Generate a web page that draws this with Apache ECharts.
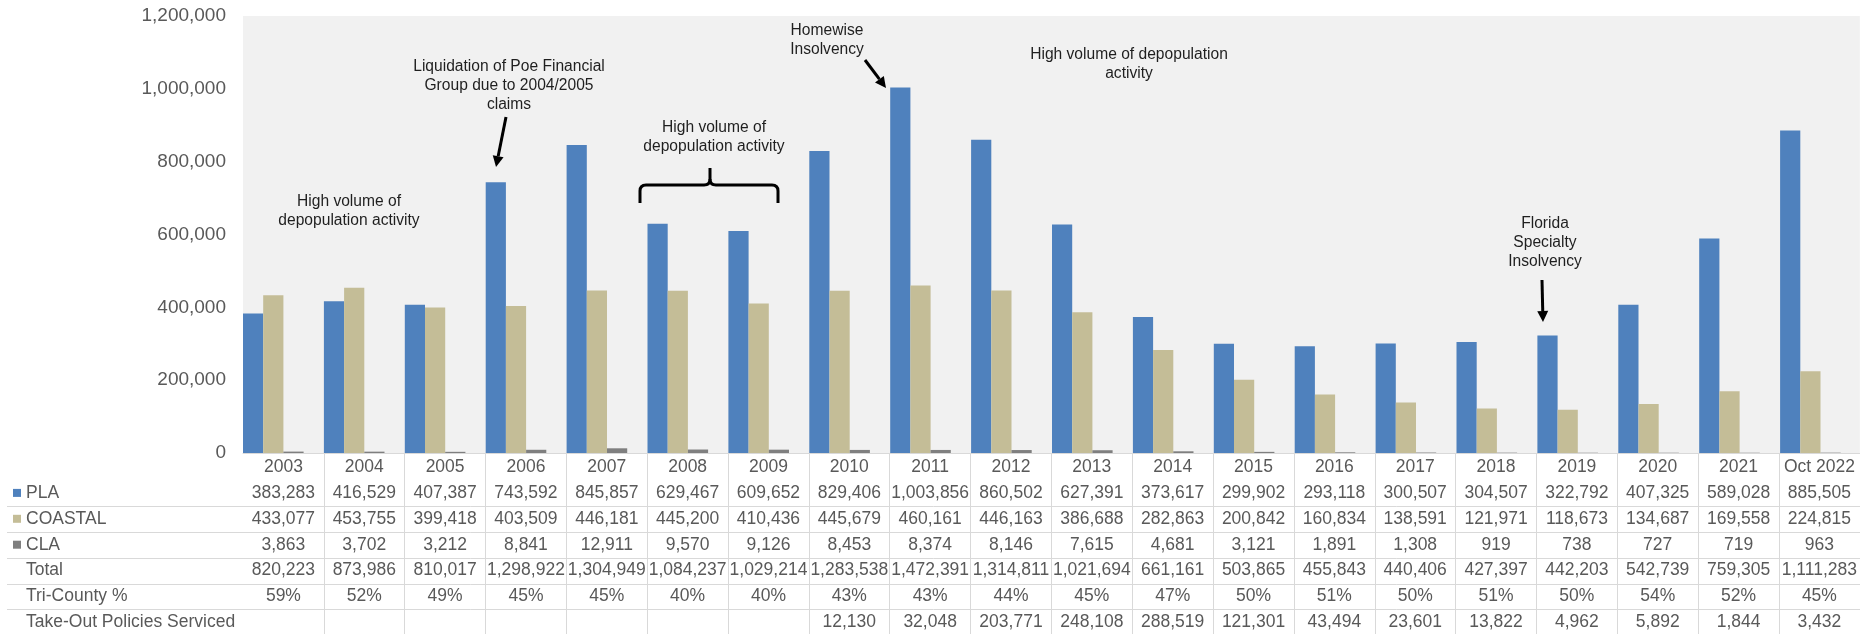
<!DOCTYPE html>
<html>
<head>
<meta charset="utf-8">
<script src="https://cdn.jsdelivr.net/npm/echarts@6/dist/echarts.min.js"></script>
<style>
  html, body { margin: 0; padding: 0; background: #ffffff; }
  #chart { width: 1860px; height: 634px; }
</style>
</head>
<body>
<div id="chart"></div>
<script>
// Policy counts by year
const years = ['2003', '2004', '2005', '2006', '2007', '2008', '2009', '2010', '2011', '2012',
  '2013', '2014', '2015', '2016', '2017', '2018', '2019', '2020', '2021', 'Oct 2022'];
const pla = [383283, 416529, 407387, 743592, 845857, 629467, 609652, 829406, 1003856, 860502,
  627391, 373617, 299902, 293118, 300507, 304507, 322792, 407325, 589028, 885505];
const coastal = [433077, 453755, 399418, 403509, 446181, 445200, 410436, 445679, 460161, 446163,
  386688, 282863, 200842, 160834, 138591, 121971, 118673, 134687, 169558, 224815];
const cla = [3863, 3702, 3212, 8841, 12911, 9570, 9126, 8453, 8374, 8146,
  7615, 4681, 3121, 1891, 1308, 919, 738, 727, 719, 963];
const totals = [820223, 873986, 810017, 1298922, 1304949, 1084237, 1029214, 1283538, 1472391, 1314811,
  1021694, 661161, 503865, 455843, 440406, 427397, 442203, 542739, 759305, 1111283];
const triCounty = ['59%', '52%', '49%', '45%', '45%', '40%', '40%', '43%', '43%', '44%',
  '45%', '47%', '50%', '51%', '50%', '51%', '50%', '54%', '52%', '45%'];
const takeOut = [null, null, null, null, null, null, null, 12130, 32048, 203771,
  248108, 288519, 121301, 43494, 23601, 13822, 4962, 5892, 1844, 3432];

// Value axis ticks
const yMin = 0;
const yMax = 1200000;
const yStep = 200000;

const FONT = '"Liberation Sans", Arial, Helvetica, sans-serif';
const TEXT = '#595959';
const LINE = '#d9d9d9';
const COLORS = { PLA: '#4f81bd', COASTAL: '#c4bd97', CLA: '#7f7f7f' };

const fmt = v => (v == null ? '' : v.toLocaleString('en-US'));

// Plot frame
const plotLeft = 243, plotTop = 16, plotHeight = 437, plotWidth = 1618;
const bandW = plotWidth / years.length;
const barW = 20.2;
// bars sit at the left side of each column, so the bar grid is nudged left
const barShift = (bandW - 3 * barW) / 2;
const rowH = 25.9;
const firstRowY = plotTop + plotHeight + 14;

const tableRows = [
  { name: 'PLA', key: COLORS.PLA, values: pla.map(fmt) },
  { name: 'COASTAL', key: COLORS.COASTAL, values: coastal.map(fmt) },
  { name: 'CLA', key: COLORS.CLA, values: cla.map(fmt) },
  { name: 'Total', values: totals.map(fmt) },
  { name: 'Tri-County %', values: triCounty },
  { name: 'Take-Out Policies Serviced', values: takeOut.map(fmt) }
];

const tableLabel = {
  interval: 0, margin: 5, fontSize: 17.5, color: TEXT, fontFamily: FONT
};

const xAxes = [
  // bar layout axis
  { gridIndex: 0, type: 'category', data: years, show: false },
  // year row and column separators of the data table
  {
    gridIndex: 1, type: 'category', data: years, position: 'bottom',
    axisLine: { show: true, onZero: false, lineStyle: { color: LINE, width: 1 } },
    axisTick: { show: true, interval: i => i > 0, length: 182, lineStyle: { color: LINE, width: 1 } },
    axisLabel: tableLabel
  }
].concat(tableRows.map((r, k) => ({
  gridIndex: 1, type: 'category', data: years, position: 'bottom', offset: rowH * (k + 1),
  axisLine: { show: false, onZero: false }, axisTick: { show: false },
  axisLabel: Object.assign({}, tableLabel, { formatter: (v, i) => r.values[i] })
})));

// Table row headers, legend keys and row rules
const tableGraphics = [];
tableRows.forEach((r, k) => {
  const cy = firstRowY + rowH * (k + 1);
  if (r.key) {
    tableGraphics.push({
      type: 'rect', shape: { x: 13, y: cy - 4, width: 8, height: 8 },
      style: { fill: r.key }, silent: true
    });
  }
  tableGraphics.push({
    type: 'text', x: 26, y: cy,
    style: { text: r.name, fontSize: 17.5, fontFamily: FONT, fill: TEXT, textAlign: 'left', textVerticalAlign: 'middle' },
    silent: true
  });
  if (k < tableRows.length - 1) {
    const ly = Math.round(cy + rowH / 2) + 0.5;
    tableGraphics.push({
      type: 'line', shape: { x1: 7, y1: ly, x2: 1860, y2: ly },
      style: { stroke: LINE, lineWidth: 1 }, silent: true
    });
  }
});

// Call-out notes
const NOTE = '#1f1f1f';
function note(text, cx, firstLineY) {
  const lh = 18.6;
  return {
    type: 'text', x: cx, y: firstLineY - lh / 2,
    style: { text, fontSize: 15.6, fontFamily: FONT, fill: NOTE, textAlign: 'center', textVerticalAlign: 'top', lineHeight: lh },
    silent: true
  };
}
const INK = { stroke: '#000', lineWidth: 3, fill: null };
function arrow(x1, y1, x2, y2) {
  const dx = x2 - x1, dy = y2 - y1;
  const len = Math.sqrt(dx * dx + dy * dy);
  const ux = dx / len, uy = dy / len;
  const hl = 11, hw = 5.5;
  const bx = x2 - ux * hl, by = y2 - uy * hl;
  return [
    { type: 'line', shape: { x1, y1, x2: bx, y2: by }, style: { stroke: '#000', lineWidth: 3 }, silent: true },
    { type: 'polygon', shape: { points: [[x2, y2], [bx - uy * hw, by + ux * hw], [bx + uy * hw, by - ux * hw]] },
      style: { fill: '#000' }, silent: true }
  ];
}
const seg = (x1, y1, x2, y2) => ({ type: 'line', shape: { x1, y1, x2, y2 }, style: INK, silent: true });
const curve = (x1, y1, cpx1, cpy1, x2, y2) => ({
  type: 'bezierCurve', shape: { x1, y1, cpx1, cpy1, x2, y2 }, style: INK, silent: true
});
// curly brace over 2008-2009
function brace(xl, xm, xr, yBar, yEnd, yPeak) {
  const r = 6;
  return [
    seg(xl, yEnd, xl, yBar + r),
    curve(xl, yBar + r, xl, yBar, xl + r, yBar),
    seg(xl + r, yBar, xm - r, yBar),
    curve(xm - r, yBar, xm, yBar, xm, yBar - r),
    seg(xm, yBar - r, xm, yPeak),
    curve(xm, yBar - r, xm, yBar, xm + r, yBar),
    seg(xm + r, yBar, xr - r, yBar),
    curve(xr - r, yBar, xr, yBar, xr, yBar + r),
    seg(xr, yBar + r, xr, yEnd)
  ];
}

const noteGraphics = [
  note('Liquidation of Poe Financial\nGroup due to 2004/2005\nclaims', 509, 67),
  ...arrow(506, 117, 496, 167),
  note('High volume of\ndepopulation activity', 349, 202),
  note('High volume of\ndepopulation activity', 714, 128),
  ...brace(640, 710, 778, 185, 203, 168),
  note('Homewise\nInsolvency', 827, 31),
  ...arrow(865, 60, 886, 88),
  note('High volume of depopulation\nactivity', 1129, 55),
  note('Florida\nSpecialty\nInsolvency', 1545, 224),
  ...arrow(1542, 280, 1543, 322)
];

const barSeries = (name, data) => ({
  name, type: 'bar', data, xAxisIndex: 0, yAxisIndex: 0,
  barWidth: barW, barGap: '0%',
  itemStyle: { color: COLORS[name] },
  emphasis: { disabled: true }
});

const chart = echarts.init(document.getElementById('chart'), null, { renderer: 'canvas' });
chart.setOption({
  animation: false,
  backgroundColor: '#ffffff',
  textStyle: { fontFamily: FONT },
  grid: [
    { left: plotLeft - barShift, top: plotTop, width: plotWidth, height: plotHeight, show: false },
    { left: plotLeft, top: plotTop, width: plotWidth, height: plotHeight, show: true,
      backgroundColor: '#f1f1f1', borderWidth: 0 }
  ],
  xAxis: xAxes,
  yAxis: [
    { gridIndex: 0, type: 'value', min: yMin, max: yMax, interval: yStep, show: false },
    {
      gridIndex: 1, type: 'value', min: yMin, max: yMax, interval: yStep,
      axisLine: { show: false }, axisTick: { show: false }, splitLine: { show: false },
      axisLabel: { margin: 17, fontSize: 19, color: TEXT, fontFamily: FONT, formatter: v => fmt(v) }
    }
  ],
  series: [
    barSeries('PLA', pla),
    barSeries('COASTAL', coastal),
    barSeries('CLA', cla)
  ],
  graphic: { elements: tableGraphics.concat(noteGraphics) }
});
</script>
</body>
</html>
